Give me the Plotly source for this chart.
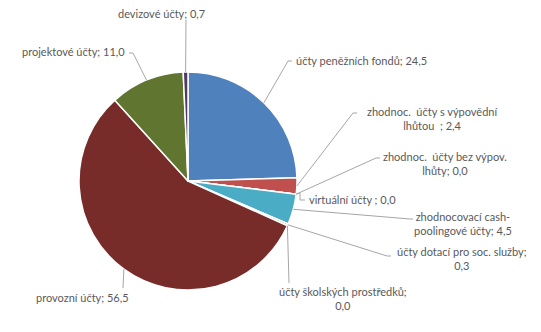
import math
import plotly.graph_objects as go

# ---- data ----
categories = [
    "účty peněžních fondů",
    "zhodnoc.\u00a0 účty s výpovědní lhůtou\u00a0 ",
    "zhodnoc.\u00a0 účty bez výpov. lhůty",
    "virtuální účty ",
    "zhodnocovací cash-poolingové účty",
    "účty dotací pro soc. služby",
    "účty školských prostředků",
    "provozní účty",
    "projektové účty",
    "devizové účty",
]
values = [24.5, 2.4, 0.0, 0.0, 4.5, 0.3, 0.0, 56.5, 11.0, 0.7]
# label texts as wrapped in the chart (name part)
label_names = [
    "účty peněžních fondů",
    "zhodnoc.\u00a0 účty s výpovědní<br>lhůtou\u00a0 ",
    "zhodnoc.\u00a0 účty bez výpov.<br>lhůty",
    "virtuální účty ",
    "zhodnocovací cash-<br>poolingové účty",
    "účty dotací pro soc. služby;<br>",
    "účty školských prostředků;<br>",
    "provozní účty",
    "projektové účty",
    "devizové účty",
]
colors = ["#4F81BD", "#C0504D", "#9BBB59", "#8064A2", "#4BACC6",
          "#F79646", "#2C4D75", "#772C2A", "#5F7530", "#4D3B62"]

# ---- layout (pixels) ----
W, H = 541, 332
CX, CY, R = 188, 181, 109
# label centre positions
label_pos = [(361, 60), (432, 118), (445, 164), (352, 199), (463, 224),
             (462, 258), (343, 298), (82, 297), (73, 51), (161, 14)]
# leader line bend points from the slice edge to the label
leader_pts = [
    [(288, 61), (292, 61)],
    [(353, 113), (357, 113)],
    [(376, 158), (380, 158)],
    [(300, 193), (300, 200), (305, 200)],
    [(410, 219), (413, 219)],
    [(387, 256), (391, 256)],
    [(289, 283)],
    [(123, 288)],
    [(133, 53), (129, 53)],
    [(186, 20)],
]


def px(x, y):
    return x / W, 1 - y / H


fig = go.Figure(go.Pie(
    labels=categories,
    values=values,
    sort=False,
    direction="clockwise",
    rotation=0,
    marker=dict(colors=colors, line=dict(color="white", width=1.5)),
    textinfo="none",
    hoverinfo="label+value",
    domain=dict(x=[(CX - R) / W, (CX + R) / W], y=[1 - (CY + R) / H, 1 - (CY - R) / H]),
    showlegend=False,
))

total = sum(values)
cum = 0.0
shapes = []
annotations = []
for i, v in enumerate(values):
    mid = (cum + v / 2) / total * 2 * math.pi
    cum += v
    tx = CX + R * math.sin(mid)
    ty = CY - R * math.cos(mid)
    pts = [(tx, ty)] + leader_pts[i]
    path = ""
    for j, (x, y) in enumerate(pts):
        X, Y = px(x, y)
        path += ("M" if j == 0 else " L") + f" {X:.5f} {Y:.5f}"
    shapes.append(dict(type="path", xref="paper", yref="paper", path=path,
                       line=dict(color="#A6A6A6", width=1)))
    val = f"{v:.1f}".replace(".", ",")
    name = label_names[i]
    if name.endswith("<br>"):
        text = name + val
    else:
        text = f"{name}; {val}"
    X, Y = px(*label_pos[i])
    annotations.append(dict(x=X, y=Y, xref="paper", yref="paper", text=text,
                            showarrow=False, xanchor="center", yanchor="middle",
                            align="center",
                            font=dict(family="Lato", size=11, color="#595959")))

fig.update_layout(
    width=W, height=H,
    margin=dict(l=0, r=0, t=0, b=0),
    paper_bgcolor="white",
    plot_bgcolor="white",
    shapes=shapes,
    annotations=annotations,
)

fig.write_html("out.html")
